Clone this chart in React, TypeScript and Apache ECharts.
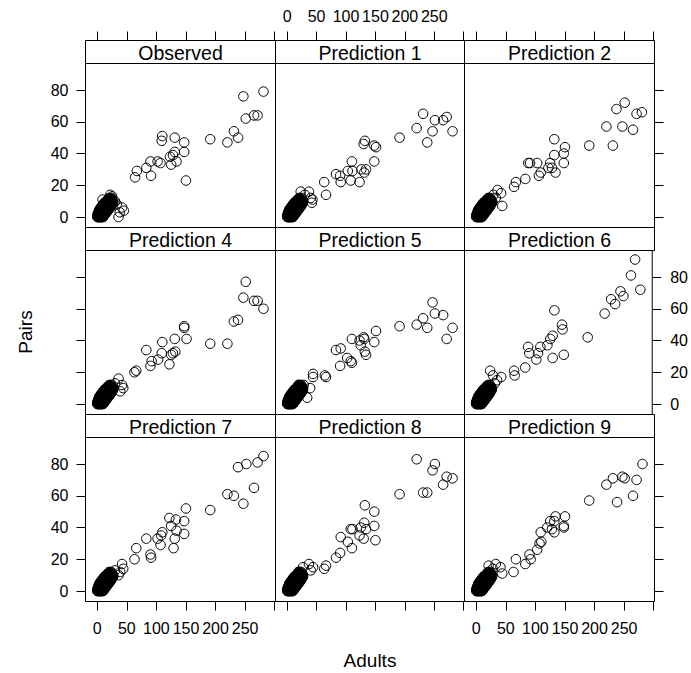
import React, { useEffect, useRef } from "react";
import * as echarts from "echarts";

const FONT = '"Liberation Sans", Arial, Helvetica, sans-serif';

const panelTitles = [
  "Observed", "Prediction 1", "Prediction 2",
  "Prediction 4", "Prediction 5", "Prediction 6",
  "Prediction 7", "Prediction 8", "Prediction 9",
];

const adultsTicks = [0, 50, 100, 150, 200, 250, 300];
const adultsLabels = [0, 50, 100, 150, 200, 250];
const pairsTicks = [0, 20, 40, 60, 80];

// Low-count sites shared by every panel: [pairs, adults counts with that many pairs]
const denseSites: [number, number[]][] = [
  [0, [0, 1, 2, 3, 4, 5, 6, 7, 8, 9, 10]],
  [1, [0, 1, 2, 3, 4, 5, 6, 7, 8, 9, 10, 11, 12]],
  [2, [1, 2, 3, 4, 5, 6, 7, 8, 9, 10, 11, 12, 13, 14]],
  [3, [2, 3, 4, 5, 6, 7, 8, 9, 10, 11, 12, 13, 14, 15, 16]],
  [4, [3, 4, 5, 6, 7, 8, 9, 10, 11, 12, 13, 14, 15, 16, 17, 18]],
  [5, [4, 5, 6, 7, 8, 9, 10, 11, 12, 13, 14, 15, 16, 17, 18, 19, 20]],
  [6, [6, 7, 8, 9, 10, 11, 12, 13, 14, 15, 16, 17, 18, 19, 20, 21, 22]],
  [7, [8, 9, 10, 11, 12, 13, 14, 15, 16, 17, 18, 19, 20, 21, 22, 23, 24]],
  [8, [10, 11, 12, 13, 14, 15, 16, 17, 18, 19, 20, 21, 22, 23, 24, 25]],
  [9, [12, 13, 14, 15, 16, 17, 18, 19, 20, 21, 22, 23, 24, 26, 27]],
  [10, [15, 16, 17, 18, 19, 20, 21, 22, 23, 24, 25, 27]],
  [11, [18, 19, 20, 21, 22, 23, 25]],
  [12, [20, 22, 24]],
];

// [adults, pairs] for the remaining sites of each panel
const observed: [number, number][] = [
  [281, 79], [247, 76], [251, 62], [265, 64], [271, 64], [231, 54], [238, 50], [220, 47], [191, 49],
  [110, 51], [109, 48], [131, 50], [147, 47], [147, 41], [131, 41], [128, 39], [123, 38], [134, 35],
  [125, 33], [150, 23], [107, 34], [102, 35], [90, 35], [83, 31], [91, 26], [67, 29], [64, 25],
  [9, 11], [25, 13], [22, 14], [42, 6], [45, 4], [36, 0], [38, 3], [33, 8], [30, 10],
];
const prediction1: [number, number][] = [
  [231, 65], [271, 63], [265, 61], [251, 61], [220, 56], [247, 54], [281, 54], [238, 47], [191, 50],
  [132, 48], [130, 46], [148, 45], [151, 44], [110, 35], [148, 35], [126, 30], [134, 30], [131, 28],
  [103, 29], [111, 29], [83, 27], [90, 26], [108, 23], [123, 22], [91, 22], [63, 22], [66, 14],
  [23, 16], [37, 16], [43, 11], [40, 12], [30, 14], [42, 9],
];
const prediction2: [number, number][] = [
  [251, 72], [237, 68], [280, 66], [271, 65], [220, 57], [247, 57], [265, 55], [191, 45], [231, 45],
  [132, 49], [150, 44], [148, 40], [132, 39], [148, 34], [125, 34], [128, 31], [122, 31], [134, 28],
  [103, 34], [91, 34], [88, 34], [109, 28], [106, 26], [83, 24], [64, 19], [67, 22],
  [42, 15], [36, 17], [29, 14], [44, 7], [33, 12],
];
const prediction4: [number, number][] = [
  [251, 77], [247, 67], [265, 65], [271, 65], [281, 60], [231, 52], [238, 53], [191, 38], [220, 38],
  [147, 49], [147, 48], [131, 41], [151, 41], [110, 39], [83, 34], [109, 32], [128, 32], [132, 33],
  [125, 31], [103, 28], [92, 27], [90, 24], [122, 25], [66, 21], [63, 20],
  [36, 16], [42, 12], [44, 10], [30, 13], [39, 8],
];
const prediction5: [number, number][] = [
  [247, 64], [231, 54], [251, 57], [265, 56], [220, 50], [238, 48], [281, 48], [271, 41], [191, 49],
  [151, 46], [130, 42], [131, 41], [148, 39], [110, 41], [123, 40], [125, 37], [83, 34], [91, 35],
  [132, 33], [134, 31], [102, 29], [108, 27], [110, 26], [90, 24], [64, 18], [66, 17],
  [44, 19], [44, 17], [19, 12], [28, 12], [39, 10], [34, 4],
];
const prediction6: [number, number][] = [
  [272, 91], [265, 81], [281, 72], [247, 71], [252, 68], [231, 66], [238, 63], [220, 57], [191, 42],
  [134, 59], [147, 50], [148, 47], [131, 43], [127, 41], [122, 37], [110, 36], [106, 32], [103, 28],
  [89, 36], [91, 32], [131, 29], [150, 31], [84, 23], [65, 21], [66, 18],
  [43, 17], [24, 21], [29, 18], [36, 15], [32, 13],
];
const prediction7: [number, number][] = [
  [281, 85], [271, 81], [252, 80], [238, 78], [265, 65], [220, 61], [231, 60], [247, 55], [191, 51],
  [150, 52], [122, 46], [133, 45], [147, 44], [125, 41], [134, 38], [147, 36], [110, 37], [108, 35],
  [102, 33], [83, 33], [131, 33], [107, 29], [129, 27], [66, 27], [90, 23], [91, 21], [63, 20],
  [42, 17], [44, 14], [36, 10], [30, 13], [39, 12],
];
const prediction8: [number, number][] = [
  [220, 83], [251, 80], [247, 76], [271, 72], [281, 71], [265, 67], [191, 61], [231, 62], [238, 62],
  [132, 54], [148, 50], [131, 43], [148, 41], [108, 39], [111, 39], [125, 40], [134, 39], [123, 35],
  [130, 33], [150, 32], [91, 34], [103, 31], [110, 27], [90, 24], [83, 21], [66, 16], [63, 14],
  [37, 17], [44, 15], [27, 15], [19, 12], [40, 13],
];
const prediction9: [number, number][] = [
  [281, 80], [247, 72], [251, 71], [231, 71], [220, 67], [271, 70], [265, 60], [238, 56], [191, 57],
  [134, 47], [150, 47], [125, 44], [132, 44], [148, 41], [148, 40], [120, 40], [128, 39], [132, 37],
  [109, 37], [110, 31], [107, 30], [103, 26], [90, 23], [92, 20], [83, 17], [67, 20], [63, 12],
  [21, 16], [33, 17], [41, 15], [44, 11], [28, 14],
];

const panelPoints = [
  observed, prediction1, prediction2,
  prediction4, prediction5, prediction6,
  prediction7, prediction8, prediction9,
];

// Panel geometry (pixels), edges on half pixels so borders stay crisp
const COL_LEFT = [85.5, 275.5, 464.5];
const COL_W = [190, 189, 190];
const STRIP_TOP = [40.5, 227.5, 414.5];
const STRIP_H = 23;
const PANEL_H = 164;

const X_MIN = -19.8;
const X_MAX = 301.3;
const Y_MIN = -6.6;
const Y_MAX = 96.7;

export default function App() {
  const ref = useRef<HTMLDivElement>(null);

  useEffect(() => {
    document.body.style.margin = "0";
    if (!ref.current) return;
    const chart = echarts.init(ref.current, undefined, { renderer: "svg", width: 691, height: 673 });

    const dense: [number, number][] = [];
    denseSites.forEach(([pairs, adults]) => adults.forEach((a) => dense.push([a, pairs])));

    const grids: any[] = [];
    const xAxes: any[] = [];
    const yAxes: any[] = [];
    const extraX: any[] = [];
    const extraY: any[] = [];
    const series: any[] = [];
    const graphics: any[] = [];
    const tickStyle = { color: "#000", width: 1 };
    const labelBase = { color: "#000", fontSize: 16, fontFamily: FONT };
    const centered = { textAlign: "center", textVerticalAlign: "middle", align: "center", verticalAlign: "middle" };

    for (let i = 0; i < 9; i++) {
      const row = Math.floor(i / 3);
      const col = i % 3;
      const left = COL_LEFT[col];
      const width = COL_W[col];
      const stripTop = STRIP_TOP[row];
      const top = stripTop + STRIP_H;

      grids.push({
        left, top, width, height: PANEL_H,
        show: true, borderColor: "#000", borderWidth: 1, backgroundColor: "rgba(0,0,0,0)",
        containLabel: false,
      });

      xAxes.push({
        gridIndex: i, type: "value", position: "bottom", min: X_MIN, max: X_MAX,
        axisLine: { show: false, onZero: false },
        splitLine: { show: false },
        axisTick: { show: row === 2, length: 9, customValues: adultsTicks, lineStyle: tickStyle },
        axisLabel: { ...labelBase, show: row === 2 && col !== 1, customValues: adultsLabels, margin: 19 },
      });
      yAxes.push({
        gridIndex: i, type: "value", position: "left", min: Y_MIN, max: Y_MAX,
        axisLine: { show: false, onZero: false },
        splitLine: { show: false },
        axisTick: { show: col === 0, length: 9, customValues: pairsTicks, lineStyle: tickStyle },
        axisLabel: { ...labelBase, show: col === 0 && row !== 1, customValues: pairsTicks, margin: 17 },
      });

      if (row === 0) {
        extraX.push({
          gridIndex: i, type: "value", position: "top", offset: STRIP_H, min: X_MIN, max: X_MAX,
          axisLine: { show: false, onZero: false },
          splitLine: { show: false },
          axisTick: { show: true, length: 9, customValues: adultsTicks, lineStyle: tickStyle },
          axisLabel: { ...labelBase, show: col === 1, customValues: adultsLabels, margin: 16 },
        });
      }
      if (col === 2) {
        extraY.push({
          gridIndex: i, type: "value", position: "right", min: Y_MIN, max: Y_MAX,
          axisLine: { show: false, onZero: false },
          splitLine: { show: false },
          axisTick: { show: true, length: 9, customValues: pairsTicks, lineStyle: tickStyle },
          axisLabel: { ...labelBase, show: row === 1, customValues: pairsTicks, margin: 18 },
        });
      }

      series.push({
        type: "scatter",
        name: panelTitles[i],
        xAxisIndex: i,
        yAxisIndex: i,
        data: dense.concat(panelPoints[i]),
        symbol: "circle",
        symbolSize: 9.5,
        silent: true,
        emphasis: { disabled: true },
        itemStyle: { color: "rgba(0,0,0,0)", borderColor: "#000", borderWidth: 1, opacity: 1 },
      });

      graphics.push({
        type: "rect",
        shape: { x: left, y: stripTop, width, height: STRIP_H },
        style: { fill: "#fff", stroke: "#000", lineWidth: 1 },
        z: 10,
      });
      graphics.push({
        type: "text",
        x: left + width / 2,
        y: stripTop + STRIP_H / 2 + 0.5,
        style: { text: panelTitles[i], fill: "#000", fontSize: 19.5, fontFamily: FONT, ...centered },
        z: 11,
      });
    }

    graphics.push({
      type: "text",
      x: 370,
      y: 660,
      style: { text: "Adults", fill: "#000", fontSize: 19, fontFamily: FONT, ...centered },
    });
    graphics.push({
      type: "text",
      x: 25,
      y: 332,
      rotation: Math.PI / 2,
      style: { text: "Pairs", fill: "#000", fontSize: 19, fontFamily: FONT, ...centered },
    });

    chart.setOption({
      animation: false,
      backgroundColor: "#fff",
      grid: grids,
      xAxis: xAxes.concat(extraX),
      yAxis: yAxes.concat(extraY),
      series,
      graphic: graphics,
    });

    return () => chart.dispose();
  }, []);

  return <div ref={ref} style={{ position: "absolute", left: 0, top: 0, width: 691, height: 673 }} />;
}
